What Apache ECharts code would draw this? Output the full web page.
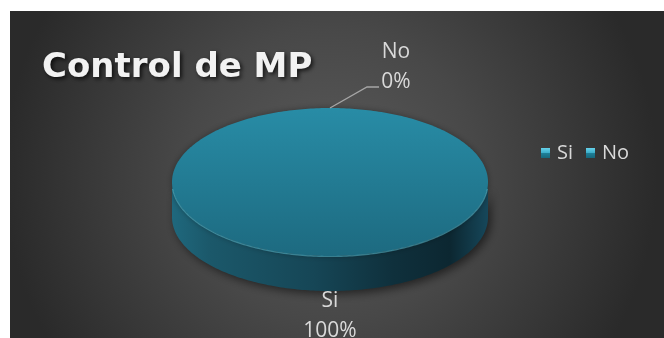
<!DOCTYPE html>
<html><head><meta charset="utf-8">
<script src="https://cdn.jsdelivr.net/npm/echarts@6/dist/echarts.min.js"></script>
<style>
html,body{margin:0;padding:0;background:#fff;width:664px;height:338px;overflow:hidden}
#c{position:absolute;left:10px;top:11px;width:654px;height:327px}
</style>
</head><body><div id="c"></div>
<script>
// ---- data ----
const categories = ['Si', 'No'];
const values = [100, 0];
const titleText = 'Control de MP';

const chart = echarts.init(document.getElementById('c'), null, {renderer: 'canvas'});
const total = values.reduce((a, b) => a + b, 0);
const labelColor = '#d9d9d9';
const labelFont = '21px "Open Sans"';

function renderSlice(idx, params, api) {
  const W = api.getWidth(), H = api.getHeight();
  const cx = W * 0.4893, cy = H * 0.523, rx = W * 0.2416, ry = H * 0.2263, depth = H * 0.107;
  let start = 0;
  for (let i = 0; i < idx; i++) start += values[i] / total * 360;
  const v = api.value(0);
  const span = v / total * 360;
  const end = start + span;
  const P = (deg, dy) => { const r = deg * Math.PI / 180; return [cx + rx * Math.sin(r), cy - ry * Math.cos(r) + (dy || 0)]; };
  const arc = (a, b, dy) => { const n = Math.max(2, Math.ceil(Math.abs(b - a))); const out = []; for (let k = 0; k <= n; k++) out.push(P(a + (b - a) * k / n, dy)); return out; };
  const children = [];
  // side wall (front half only)
  const s1 = Math.max(start, 90), s2 = Math.min(end, 270);
  if (s2 > s1) {
    const pts = arc(s1, s2, 0).concat(arc(s2, s1, depth));
    children.push({
      type: 'polygon', shape: {points: pts},
      style: {
        fill: new echarts.graphic.LinearGradient(cx - rx, 0, cx + rx, 0, [
          {offset: 0, color: '#1f687d'}, {offset: 0.12, color: '#1b586a'},
          {offset: 0.45, color: '#164656'}, {offset: 0.7, color: '#0f303c'},
          {offset: 0.88, color: '#0c2731'}, {offset: 1, color: '#16475a'}], true),
        shadowBlur: 10, shadowColor: 'rgba(0,0,0,0.55)', shadowOffsetX: 3, shadowOffsetY: 3
      }
    });
  }
  // top face
  if (span > 0) {
    let pts;
    if (span >= 359.999) pts = arc(0, 360, 0);
    else pts = [[cx, cy]].concat(arc(start, end, 0));
    children.push({
      type: 'polygon', shape: {points: pts},
      style: {
        fill: new echarts.graphic.LinearGradient(0, cy - ry, 0, cy + ry, [
          {offset: 0, color: '#288ca6'}, {offset: 1, color: '#1d6a80'}], true),
        shadowBlur: 6, shadowColor: 'rgba(0,0,0,0.35)'
      }
    });
    // rim highlight on the front edge
    const h1 = Math.max(start, 95), h2 = Math.min(end, 265);
    if (h2 > h1) children.push({
      type: 'polyline', shape: {points: arc(h1, h2, 0.5)},
      style: {stroke: 'rgba(90,185,205,0.55)', lineWidth: 1.2, fill: null}
    });
  }
  // data label
  const mid = start + span / 2;
  const pct = Math.round(v / total * 100) + '%';
  const txt = categories[idx] + '\n' + pct;
  const a = P(mid);
  if (Math.cos(mid * Math.PI / 180) > 0) {
    const e1 = [a[0] + 37, a[1] - 21], e2 = [e1[0] + 12, e1[1]];
    children.push({type: 'polyline', shape: {points: [a, e1, e2]}, style: {stroke: '#a6a6a6', lineWidth: 1.3, fill: null}});
    children.push({type: 'text', style: {text: txt, x: e2[0] + 17, y: e2[1] - 20, align: 'center', verticalAlign: 'middle', fill: labelColor, font: labelFont, lineHeight: 30}});
  } else {
    children.push({type: 'text', style: {text: txt, x: a[0], y: a[1] + depth + 25, align: 'center', verticalAlign: 'middle', fill: labelColor, font: labelFont, lineHeight: 30}});
  }
  return {type: 'group', children: children};
}

const iconFill = new echarts.graphic.LinearGradient(0, 0, 0, 1, [
  {offset: 0, color: '#66d2ea'}, {offset: 0.45, color: '#3fb0cc'}, {offset: 0.55, color: '#1d7e96'}, {offset: 1, color: '#17677b'}]);

chart.setOption({
  animation: false,
  backgroundColor: new echarts.graphic.RadialGradient(0.49, 0.5, 1.0, [
    {offset: 0, color: '#5a5a5a'}, {offset: 0.45, color: '#484848'}, {offset: 0.8, color: '#353535'}, {offset: 1, color: '#2a2a2a'}]),
  title: {
    text: titleText, left: 32, top: 40, padding: 0,
    textStyle: {color: '#f2f2f2', fontSize: 34, fontWeight: 'bold', fontFamily: 'DejaVu Sans',
      textShadowColor: 'rgba(0,0,0,0.75)', textShadowBlur: 4, textShadowOffsetX: 2, textShadowOffsetY: 2}
  },
  legend: {
    data: categories.map(n => ({name: n, itemStyle: {color: iconFill}})),
    left: 531, top: 132, padding: 0, itemWidth: 9, itemHeight: 10, itemGap: 13, icon: 'rect',
    textStyle: {color: labelColor, fontSize: 20, fontFamily: 'Open Sans', padding: [0, 0, 0, 2]}
  },
  series: categories.map((name, i) => ({
    type: 'custom', name: name, coordinateSystem: 'none',
    itemStyle: {color: '#23819b'},
    data: [[values[i]]],
    renderItem: (params, api) => renderSlice(i, params, api)
  }))
});
</script>
</body></html>
